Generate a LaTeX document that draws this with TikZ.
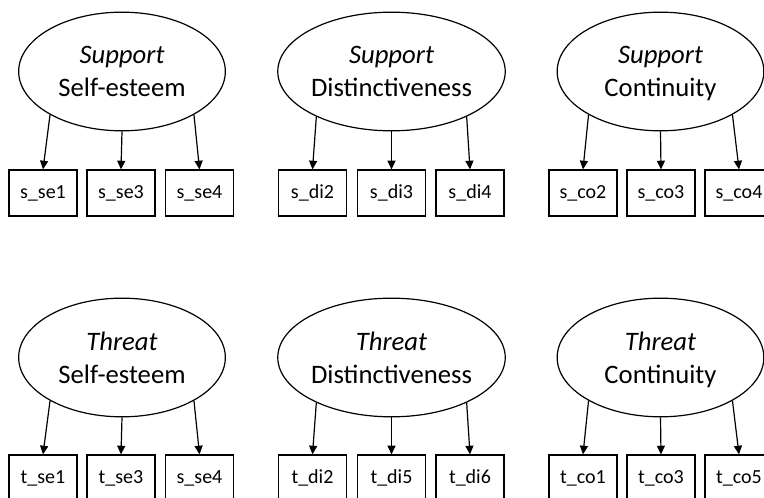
\documentclass[tikz,border=0pt]{standalone}
\usepackage{fontspec}
\setmainfont{Carlito}
\usetikzlibrary{shapes.geometric,arrows.meta}
\tikzset{
  latent/.style={draw, ellipse, line width=.9pt, inner sep=0pt, minimum width=155pt, minimum height=89pt, align=center, text depth=0pt, font=\fontsize{20}{24.5}\selectfont},
  indicator/.style={draw, rectangle, line width=.9pt, minimum width=51pt, minimum height=34.5pt, inner sep=0pt, font=\fontsize{15}{18}\selectfont},
  loading/.style={line width=.9pt, ->, >={Triangle[length=6.5pt,width=6pt]}}
}
\begin{document}
\begin{tikzpicture}[x=0.75pt,y=-0.75pt]
    \clip (0,0) rectangle (764,498);
    % support row
    \node[latent] (sse) at (122,71.5) {\textit{Support}\\Self-esteem};
    \node[latent] (sdi) at (391.5,71.5) {\textit{Support}\\Distinctiveness};
    \node[latent] (sco) at (660.5,71.5) {\textit{Support}\\Continuity};
    \node[indicator] (sse1) at (43,193) {s\_se1};
    \node[indicator] (sse3) at (121,193) {s\_se3};
    \node[indicator] (sse4) at (199.5,193) {s\_se4};
    \node[indicator] (sdi2) at (312.5,193) {s\_di2};
    \node[indicator] (sdi3) at (391.5,193) {s\_di3};
    \node[indicator] (sdi4) at (470,193) {s\_di4};
    \node[indicator] (sco2) at (583,193) {s\_co2};
    \node[indicator] (sco3) at (661,193) {s\_co3};
    \node[indicator] (sco4) at (739,193) {s\_co4};
    % threat row
    \node[latent] (tse) at (122,357.5) {\textit{Threat}\\Self-esteem};
    \node[latent] (tdi) at (391.5,357.5) {\textit{Threat}\\Distinctiveness};
    \node[latent] (tco) at (660.5,357.5) {\textit{Threat}\\Continuity};
    \node[indicator] (tse1) at (43,478) {t\_se1};
    \node[indicator] (tse3) at (121,478) {t\_se3};
    \node[indicator] (tse4) at (199.5,478) {s\_se4};
    \node[indicator] (tdi2) at (312.5,478) {t\_di2};
    \node[indicator] (tdi5) at (391.5,478) {t\_di5};
    \node[indicator] (tdi6) at (470,478) {t\_di6};
    \node[indicator] (tco1) at (583,478) {t\_co1};
    \node[indicator] (tco3) at (661,478) {t\_co3};
    \node[indicator] (tco5) at (739,478) {t\_co5};
    % loadings
    \draw[loading] (sse.211) -- (sse1.north);
    \draw[loading] (sse.south) -- (sse3.north);
    \draw[loading] (sse.329) -- (sse4.north);
    \draw[loading] (sdi.211) -- (sdi2.north);
    \draw[loading] (sdi.south) -- (sdi3.north);
    \draw[loading] (sdi.329) -- (sdi4.north);
    \draw[loading] (sco.211) -- (sco2.north);
    \draw[loading] (sco.south) -- (sco3.north);
    \draw[loading] (sco.329) -- (sco4.north);
    \draw[loading] (tse.211) -- (tse1.north);
    \draw[loading] (tse.south) -- (tse3.north);
    \draw[loading] (tse.329) -- (tse4.north);
    \draw[loading] (tdi.211) -- (tdi2.north);
    \draw[loading] (tdi.south) -- (tdi5.north);
    \draw[loading] (tdi.329) -- (tdi6.north);
    \draw[loading] (tco.211) -- (tco1.north);
    \draw[loading] (tco.south) -- (tco3.north);
    \draw[loading] (tco.329) -- (tco5.north);
\end{tikzpicture}
\end{document}
